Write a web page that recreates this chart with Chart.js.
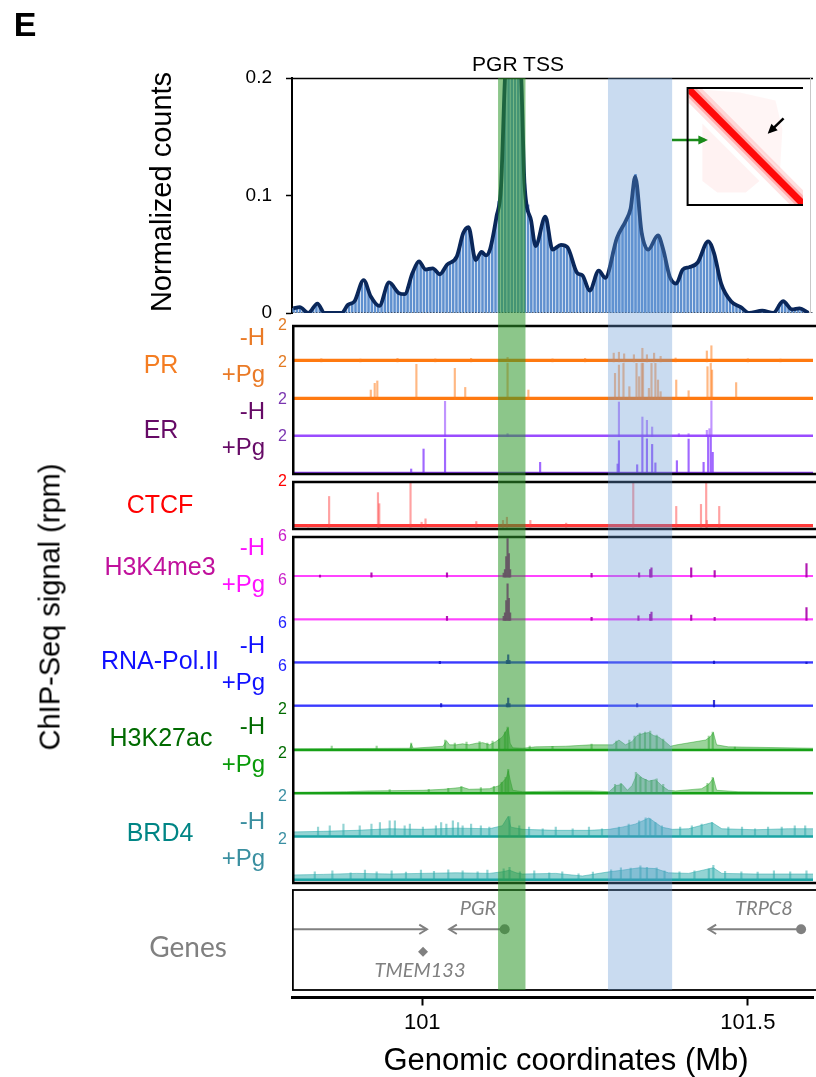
<!DOCTYPE html>
<html>
<head>
<meta charset="utf-8">
<title>PGR locus: virtual 4C and ChIP-Seq tracks</title>
<script src="https://cdn.jsdelivr.net/npm/chart.js@4.4.1/dist/chart.umd.min.js"></script>
<style>
  html, body { margin: 0; padding: 0; background: #fff; }
  #page { position: relative; width: 816px; height: 1077px; overflow: hidden;
          font-family: "Liberation Sans", Arial, Helvetica, sans-serif; }
  #main { position: absolute; left: 0; top: 0; }
  #inset { position: absolute; left: 660px; top: 84px; }
  .lbl { position: absolute; white-space: nowrap; line-height: 1; transform: translate(-50%, -50%); }
  .rt { position: absolute; white-space: nowrap; line-height: 1; transform: translate(-100%, -50%); }
  .vert { position: absolute; white-space: nowrap; line-height: 1; transform: translate(-50%, -50%) rotate(-90deg); }
  .cond { font-size: 24px; }
  .mark { font-size: 25px; }
  .gene { font-family: Lato, "Open Sans", sans-serif; font-style: italic; font-size: 20px; color: #808080; }
</style>
</head>
<body>
<div id="page">
  <canvas id="main" width="818" height="1077"></canvas>
  <canvas id="inset" width="143" height="125"></canvas>

  <div class="lbl" style="left:25px;top:24px;font-size:34px;font-weight:bold;">E</div>
  <div class="lbl" style="left:518px;top:63px;font-size:21px;">PGR TSS</div>
  <div class="vert" style="left:161px;top:192px;font-size:29px;">Normalized counts</div>
  <div class="vert" style="left:50px;top:607px;font-size:29px;">ChIP-Seq signal (rpm)</div>

  <div class="lbl mark" style="left:161px;top:364px;color:#f47d22;">PR</div>
  <div class="rt cond" style="left:265px;top:337px;color:#ea7a26;">-H</div>
  <div class="rt cond" style="left:265px;top:374px;color:#ea7a26;">+Pg</div>

  <div class="lbl mark" style="left:161px;top:429px;color:#660a66;">ER</div>
  <div class="rt cond" style="left:265px;top:411px;color:#660a66;">-H</div>
  <div class="rt cond" style="left:265px;top:447px;color:#660a66;">+Pg</div>

  <div class="lbl mark" style="left:160px;top:504px;color:#ff0000;">CTCF</div>

  <div class="lbl mark" style="left:160px;top:566px;color:#c0109c;">H3K4me3</div>
  <div class="rt cond" style="left:265px;top:547px;color:#ff10ff;">-H</div>
  <div class="rt cond" style="left:265px;top:584px;color:#ff10ff;">+Pg</div>

  <div class="lbl mark" style="left:160px;top:660px;color:#1010ff;">RNA-Pol.II</div>
  <div class="rt cond" style="left:265px;top:645px;color:#1010ff;">-H</div>
  <div class="rt cond" style="left:265px;top:682px;color:#1010ff;">+Pg</div>

  <div class="lbl mark" style="left:161px;top:737px;color:#006a00;">H3K27ac</div>
  <div class="rt cond" style="left:265px;top:726px;color:#006a00;">-H</div>
  <div class="rt cond" style="left:265px;top:764px;color:#089a08;">+Pg</div>

  <div class="lbl mark" style="left:160px;top:832px;color:#008585;">BRD4</div>
  <div class="rt cond" style="left:265px;top:821px;color:#3a8fa0;">-H</div>
  <div class="rt cond" style="left:265px;top:858px;color:#3a8fa0;">+Pg</div>

  <div class="lbl" style="left:188px;top:946px;font-family:Lato,'Open Sans',sans-serif;font-size:28px;color:#808080;">Genes</div>
  <div class="lbl gene" style="left:478px;top:907px;">PGR</div>
  <div class="lbl gene" style="left:764px;top:907px;">TRPC8</div>
  <div class="lbl gene" style="left:420px;top:969px;">TMEM133</div>

  <div class="lbl" style="left:566px;top:1059px;font-size:31px;">Genomic coordinates (Mb)</div>
</div>

<script>
// genomic window (Mb) and x ticks
var xMin = 100.8, xMax = 101.6;
var xTicks = [101, 101.5];

// highlighted regions
var pgrTss = [101.1164, 101.1585];
var loopRegion = [101.2852, 101.3837];

// virtual 4C from the PGR TSS: raw bins and smoothed profile
var hicTicks = [0, 0.1, 0.2];
var hicBinStart = 100.8025;
var hicBinWidth = 0.005;
var hicBins = [
  .004,.005,.005,.003,.001,.001,.004,.008,.006,.001,
  0,0,0,0,0,.001,.005,.008,.009,.011,
  .018,.025,.027,.019,.013,.009,.006,.010,.018,.025,
  .024,.020,.017,.016,.016,.022,.030,.037,.043,.042,
  .038,.037,.038,.038,.035,.033,.037,.041,.043,.045,
  .048,.058,.067,.072,.071,.058,.046,.049,.052,.049,
  .053,.064,.078,.095,.125,.21,.26,.30,.28,.23,
  .19,.11,.092,.078,.062,.062,.072,.081,.074,.060,
  .054,.056,.058,.057,.056,.050,.042,.035,.033,.031,
  .025,.020,.026,.033,.035,.032,.031,.040,.052,.062,
  .068,.074,.079,.086,.100,.118,.095,.068,.058,.054,
  .056,.063,.066,.058,.046,.034,.029,.026,.027,.034,
  .037,.039,.040,.041,.043,.047,.054,.061,.058,.051,
  .040,.028,.021,.015,.011,.008,.007,.005,.003,.001,
  0,.001,.002,.002,.002,.001,0,0,.002,.007,
  .010,.008,.004,.003,.004,.004,.003,.001,0,0
];
var hicSmoothMb = [100.802,100.812,100.825,100.839,100.850,100.876,100.886,100.896,100.910,100.921,
  100.934,100.949,100.964,100.973,100.985,100.995,101.005,101.016,101.027,101.038,
  101.053,101.063,101.071,101.082,101.091,101.098,101.104,101.114,101.121,101.127,
  101.139,101.152,101.157,101.167,101.174,101.189,101.200,101.213,101.223,101.238,
  101.246,101.257,101.271,101.281,101.299,101.313,101.320,101.327,101.337,101.347,
  101.362,101.370,101.380,101.390,101.400,101.410,101.423,101.439,101.448,101.459,
  101.474,101.489,101.502,101.522,101.539,101.554,101.568,101.579,101.593];
var hicSmooth = [.004,.005,0,.008,0,0,.007,.010,.028,.014,
  .006,.026,.017,.016,.034,.044,.037,.038,.033,.041,
  .048,.068,.073,.045,.052,.049,.054,.082,.108,.20,
  .31,.20,.11,.079,.057,.082,.054,.058,.056,.034,
  .032,.019,.036,.030,.064,.079,.089,.116,.068,.054,
  .066,.054,.031,.025,.037,.039,.043,.061,.051,.025,
  .010,.005,0,.002,0,.010,.003,.004,0];

// ChIP-Seq peaks, [Mb, rpm]
var prMinusH = [[100.845,0.18],[100.905,0.16],[100.962,0.2],[101.02,0.17],[101.075,0.2],[101.131,0.25],
  [101.2,0.17],[101.25,0.2],[101.294,0.49],[101.302,0.54],[101.310,0.45],[101.325,0.40],[101.338,0.76],
  [101.345,0.40],[101.356,0.49],[101.366,0.31],[101.389,0.22],[101.437,0.61],[101.444,0.90],[101.5,0.18],[101.55,0.16]];
var prPlusPg = [[100.921,0.54],[100.927,0.90],[100.931,1.03],[100.991,1.93],[101.050,1.71],[101.066,0.68],
  [101.131,1.98],[101.163,0.54],[101.296,1.44],[101.302,1.89],[101.309,1.98],[101.318,0.72],[101.329,1.98],
  [101.333,1.26],[101.337,1.98],[101.339,2.0],[101.348,0.63],[101.352,1.98],[101.358,1.98],[101.362,1.08],
  [101.366,0.45],[101.390,1.08],[101.409,0.50],[101.438,1.80],[101.443,1.98],[101.445,1.62],[101.482,0.94]];
var erMinusH = [[101.035,1.93],[101.131,0.18],[101.302,1.89],[101.338,1.08],[101.345,0.90],[101.353,0.54],
  [101.394,0.18],[101.409,0.18],[101.437,0.36],[101.441,0.45],[101.444,1.95]];
var erPlusPg = [[100.983,0.27],[101.002,1.35],[101.035,1.9],[101.181,0.63],[101.300,0.54],[101.302,1.80],
  [101.330,0.5],[101.338,2.0],[101.345,1.9],[101.353,1.6],[101.358,0.6],[101.391,0.72],[101.409,1.89],
  [101.432,0.63],[101.439,2.0],[101.443,2.0],[101.446,1.17]];
var ctcf = [[100.825,0.1],[100.857,1.36],[100.932,1.53],[100.934,1.04],[100.982,1.97],[100.999,0.22],
  [101.005,0.37],[101.083,0.25],[101.124,0.30],[101.130,0.44],[101.166,0.30],[101.221,0.18],[101.324,1.97],
  [101.390,0.92],[101.428,1.01],[101.436,1.97],[101.437,0.3],[101.456,0.92]];
var k4MinusH = [[100.843,0.3],[100.922,0.63],[101.038,0.63],[101.125,0.6],[101.127,1.1],[101.129,3.07],
  [101.131,5.76],[101.133,3.5],[101.135,1.1],[101.260,0.54],[101.333,0.63],[101.350,1.1],[101.352,1.37],
  [101.413,1.37],[101.449,0.98],[101.590,2.0]];
var k4PlusPg = [[101.038,0.59],[101.125,0.6],[101.127,1.1],[101.129,2.95],[101.131,5.45],[101.133,3.3],
  [101.135,1.1],[101.260,0.45],[101.332,0.68],[101.350,0.9],[101.352,1.23],[101.413,0.77],[101.449,0.45],[101.590,1.91]];
var polMinusH = [[101.027,0.33],[101.130,0.47],[101.132,1.30],[101.134,0.5],[101.448,0.37],[101.590,0.23]];
var polPlusPg = [[101.029,0.5],[101.130,0.5],[101.132,1.30],[101.134,0.5],[101.330,0.5],[101.448,0.98]];
var k27MinusHPeaks = [[100.861,0.2],[100.93,0.2],[100.983,0.35],[101.035,0.5],[101.05,0.35],[101.068,0.4],
  [101.088,0.42],[101.1,0.35],[101.108,0.45],[101.118,0.55],[101.127,0.9],[101.131,1.15],[101.165,0.2],
  [101.2,0.18],[101.26,0.3],[101.298,0.45],[101.318,0.5],[101.326,0.7],[101.334,0.85],[101.342,0.9],
  [101.35,0.95],[101.36,0.75],[101.37,0.55],[101.44,0.7],[101.446,0.9],[101.48,0.15]];
var k27PlusPgPeaks = [[100.95,0.18],[101.01,0.2],[101.04,0.25],[101.06,0.35],[101.09,0.28],[101.11,0.35],
  [101.122,0.55],[101.128,0.8],[101.132,1.2],[101.296,0.45],[101.305,0.5],[101.328,1.05],[101.335,0.8],
  [101.343,0.7],[101.352,0.65],[101.36,0.72],[101.37,0.45],[101.438,0.5],[101.446,0.8]];
var brd4MinusHPeaks = [[100.840,0.47],[100.858,0.54],[100.879,0.62],[100.904,0.54],[100.922,0.62],[100.935,0.70],
  [100.950,0.78],[100.958,0.78],[100.973,0.54],[100.981,0.62],[101.001,0.47],[101.021,0.54],[101.029,0.70],
  [101.037,0.62],[101.047,0.78],[101.055,0.70],[101.062,0.54],[101.075,0.62],[101.090,0.54],[101.103,0.47],
  [101.134,1.0],[101.149,0.54],[101.164,0.47],[101.185,0.39],[101.205,0.47],[101.231,0.39],[101.256,0.47],
  [101.276,0.39],[101.302,0.47],[101.317,0.62],[101.333,0.78],[101.343,0.93],[101.350,0.88],[101.358,0.70],
  [101.368,0.54],[101.396,0.47],[101.414,0.54],[101.429,0.62],[101.445,0.70],[101.470,0.47],[101.491,0.47],
  [101.511,0.39],[101.531,0.47],[101.552,0.47],[101.572,0.54],[101.588,0.54]];
var brd4PlusPgPeaks = [[100.835,0.40],[100.862,0.45],[100.890,0.35],[100.912,0.48],[100.930,0.40],[100.953,0.45],
  [100.975,0.38],[100.998,0.48],[101.018,0.42],[101.040,0.50],[101.062,0.45],[101.085,0.40],[101.100,0.48],
  [101.125,0.55],[101.134,0.62],[101.150,0.40],[101.172,0.45],[101.195,0.35],[101.215,0.40],[101.240,0.30],
  [101.262,0.38],[101.290,0.50],[101.305,0.60],[101.320,0.58],[101.335,0.70],[101.345,0.62],[101.360,0.60],
  [101.372,0.45],[101.395,0.40],[101.418,0.45],[101.440,0.55],[101.447,0.72],[101.465,0.42],[101.490,0.40],
  [101.515,0.38],[101.540,0.45],[101.565,0.40],[101.590,0.45]];

// broad signals, [Mb, rpm]
var k27MinusH = [[100.8,0.06],[100.981,0.09],[100.983,0.31],[100.986,0.09],[101.032,0.19],[101.037,0.47],
  [101.042,0.26],[101.052,0.26],[101.062,0.31],[101.072,0.26],[101.083,0.34],[101.093,0.37],[101.103,0.26],
  [101.113,0.42],[101.123,0.65],[101.129,0.96],[101.132,1.12],[101.135,0.34],[101.139,0.11],[101.154,0.09],
  [101.174,0.16],[101.220,0.19],[101.259,0.26],[101.292,0.26],[101.302,0.50],[101.312,0.26],[101.322,0.42],
  [101.330,0.73],[101.338,0.81],[101.348,0.88],[101.355,0.73],[101.363,0.65],[101.373,0.42],[101.381,0.19],
  [101.391,0.26],[101.435,0.50],[101.442,0.65],[101.447,0.88],[101.452,0.26],[101.470,0.16],[101.6,0.09]];
var k27PlusPg = [[100.8,0.05],[100.884,0.08],[100.919,0.12],[101.001,0.15],[101.032,0.20],[101.062,0.30],
  [101.072,0.20],[101.103,0.23],[101.118,0.38],[101.129,0.76],[101.132,1.14],[101.135,0.68],[101.139,0.15],
  [101.154,0.08],[101.220,0.12],[101.259,0.12],[101.287,0.08],[101.297,0.38],[101.307,0.45],[101.315,0.15],
  [101.322,0.38],[101.330,0.98],[101.338,0.76],[101.348,0.61],[101.358,0.68],[101.368,0.38],[101.378,0.15],
  [101.389,0.12],[101.429,0.23],[101.440,0.45],[101.447,0.76],[101.452,0.15],[101.485,0.08],[101.6,0.05]];
var brd4MinusH = [[100.8,0.23],[100.848,0.26],[100.899,0.31],[100.950,0.39],[101.001,0.36],[101.052,0.42],
  [101.103,0.39],[101.123,0.54],[101.132,1.01],[101.136,0.47],[101.154,0.36],[101.205,0.31],[101.256,0.31],
  [101.287,0.36],[101.307,0.47],[101.327,0.62],[101.338,0.78],[101.348,0.93],[101.358,0.70],[101.368,0.47],
  [101.384,0.36],[101.409,0.39],[101.445,0.70],[101.460,0.39],[101.511,0.34],[101.562,0.39],[101.6,0.39]];
var brd4PlusPg = [[100.8,0.24],[100.848,0.27],[100.899,0.32],[100.950,0.29],[101.001,0.32],[101.052,0.35],
  [101.103,0.32],[101.123,0.40],[101.134,0.48],[101.144,0.35],[101.154,0.29],[101.205,0.32],[101.246,0.19],
  [101.287,0.40],[101.307,0.48],[101.333,0.60],[101.358,0.56],[101.378,0.35],[101.409,0.32],[101.447,0.60],
  [101.460,0.32],[101.511,0.29],[101.6,0.29]];

// per-track scale tops (rpm) and background level
var trackMax   = [2, 2, 2, 2, 2, 6, 6, 6, 6, 2, 2, 2, 2];
var trackFloor = [0.12, 0.12, 0.08, 0.07, 0.1, 0.15, 0.15, 0.2, 0.2, 0, 0, 0, 0];

// genes: [start Mb, end Mb] with the arrow at the end
var tmem133Arrow = [100.8, 101.0072];
var tmem133Mark = 101.0012;
var pgrArrow = [101.1266, 101.0413];
var trpc8Arrow = [101.5817, 101.4395];

// inset contact map pieces, [x, y] in map units
var insetHalo = [[0,0],[0.12,0],[1,0.88],[1,1],[0.88,1],[0,0.12]];
var insetUpper = [[0.06,0.0],[0.45,0.03],[0.76,0.1],[0.82,0.35],[0.8,0.7]];
var insetLower = [[0.12,0.3],[0.62,0.8],[0.5,0.9],[0.25,0.9],[0.12,0.8]];
var insetDiag = [[0,0],[1,1]];
var insetLoopArrow = [[0.83,0.255],[0.71,0.37]];
var insetTssArrow = [[-0.145,0.443],[0.143,0.443]];

Chart.defaults.font.family = "'Liberation Sans', Arial, Helvetica, sans-serif";
Chart.defaults.color = '#000';

function pts(a) {
  return a.map(function(p){ return {x: p[0], y: p[1]}; });
}

// vertical layout of the stacked left axes, in px
var stackPlan = [['hic',235],['gapA',13],['t0',37],['t1',37],['t2',37],['t3',37],['gapB',8],['t4',47],['gapC',8],
  ['t5',43.25],['t6',43.25],['t7',43.25],['t8',43.25],['t9',43.25],['t10',43.25],['t11',43.25],['t12',43.25],
  ['gapD',7],['genes',100],['gapE',7.5]];
var trackPad = [0.03, 0, 0, 0, 0.04, 0.08, 0.08, 0.08, 0.08, 0.08, 0.08, 0.08, 0.08];
var trackTick = ['#e27a22','#e27a22','#7a35b0','#7a35b0','#ff0000','#c81ec8','#c81ec8','#2222ff','#2222ff',
  '#006b00','#006b00','#3a8fa3','#3a8fa3'];
var trackLine = ['#ff7a10','#ff7a10','#9a4cff','#8a3cf0','#ff3a3a','#ff44ff','#ff44ff','#3a3aff','#3a3aff',
  '#17a017','#17a017','#1ba5a5','#1ba5a5'];
var trackSpike = ['rgba(255,125,30,0.55)','rgba(255,125,30,0.55)','rgba(140,60,255,0.55)','rgba(120,40,255,0.7)',
  'rgba(255,70,70,0.5)','rgba(170,0,170,0.9)','rgba(170,0,170,0.9)','rgba(20,20,200,0.85)','rgba(20,20,200,0.85)',
  'rgba(30,160,30,0.45)','rgba(30,160,30,0.45)','rgba(40,170,170,0.5)','rgba(40,170,170,0.5)'];
var trackData = [prMinusH, prPlusPg, erMinusH, erPlusPg, ctcf, k4MinusH, k4PlusPg, polMinusH, polPlusPg,
  k27MinusH, k27PlusPg, brd4MinusH, brd4PlusPg];
var trackPeaks = [null, null, null, null, null, null, null, null, null,
  k27MinusHPeaks, k27PlusPgPeaks, brd4MinusHPeaks, brd4PlusPgPeaks];

var scales = {
  x: {
    type: 'linear', position: 'bottom', min: xMin, max: xMax, offset: false,
    afterBuildTicks: function(s){ s.ticks = xTicks.map(function(v){ return {value: v}; }); },
    afterFit: function(s){ s.height = 79.5; },
    ticks: { autoSkip: false, maxRotation: 0, padding: 4, color: '#000', font: {size: 22},
             callback: function(v){ return String(v); } },
    grid: { offset: false, drawOnChartArea: false, drawTicks: true, tickLength: 8, tickWidth: 2, tickColor: '#000' },
    border: { display: true, color: '#000', width: 3 }
  }
};
stackPlan.forEach(function(p, i){
  scales[p[0]] = { type: 'linear', position: 'left', stack: 'main', stackWeight: p[1], weight: 100 - i,
                   display: false, stacked: false, min: 0, max: 1 };
});

Object.assign(scales.hic, {
  display: true, min: 0, max: 0.2,
  afterBuildTicks: function(s){ s.ticks = hicTicks.map(function(v){ return {value: v}; }); },
  afterFit: function(s){ s.width = 292; },
  ticks: { padding: 14, color: '#000', font: {size: 19},
           callback: function(v){ return v === 0 ? '0' : v.toFixed(1); } },
  grid: { drawOnChartArea: false, drawTicks: true, tickLength: 6, tickWidth: 1.5, tickColor: '#000' },
  border: { display: true, color: '#000', width: 2 }
});

trackMax.forEach(function(m, i){
  Object.assign(scales['t' + i], {
    display: true, min: -m * trackPad[i], max: m,
    afterBuildTicks: function(s){ s.ticks = [{value: m}]; },
    afterFit: function(s){ s.width = 292; },
    ticks: { padding: 5, color: trackTick[i], font: {size: 16}, callback: function(v){ return String(v); } },
    grid: { display: false, drawTicks: false },
    border: { display: false }
  });
});

var datasets = [];

// virtual 4C
datasets.push({ type: 'line', yAxisID: 'hic', data: pts(hicSmoothMb.map(function(m, i){ return [m, hicSmooth[i]]; })),
  borderColor: '#0a275a', borderWidth: 3.8, pointRadius: 0, cubicInterpolationMode: 'monotone', order: 0 });
datasets.push({ type: 'line', yAxisID: 'hic', data: pts([[xMin, 0], [xMax, 0]]),
  borderColor: '#000', borderWidth: 1, borderDash: [1.5, 1.5], pointRadius: 0, order: 1 });
datasets.push({ type: 'bar', yAxisID: 'hic', stack: 'one', barThickness: 1.9, order: 2,
  data: hicBins.map(function(v, i){ return {x: hicBinStart + i * hicBinWidth, y: v}; }),
  backgroundColor: '#5f90cf' });

// ChIP-Seq tracks
trackData.forEach(function(arr, i){
  var sid = 't' + i;
  if (i < 9) {
    datasets.push({ type: 'bar', yAxisID: sid, stack: 'one', barThickness: 1.5, order: 3,
      data: pts(arr), backgroundColor: trackSpike[i] });
    datasets.push({ type: 'line', yAxisID: sid, data: pts([[xMin, trackFloor[i]], [xMax, trackFloor[i]]]),
      borderColor: trackLine[i], borderWidth: 2, pointRadius: 0, fill: 'origin',
      backgroundColor: trackLine[i], order: 4 });
  } else {
    datasets.push({ type: 'line', yAxisID: sid, data: pts(arr), borderColor: trackSpike[i], borderWidth: 1,
      pointRadius: 0, fill: 'origin', backgroundColor: trackSpike[i], order: 5 });
    datasets.push({ type: 'bar', yAxisID: sid, stack: 'one', barThickness: 1.5, order: 3,
      data: pts(trackPeaks[i]), backgroundColor: trackSpike[i] });
    datasets.push({ type: 'line', yAxisID: sid, data: pts([[xMin, 0], [xMax, 0]]),
      borderColor: trackLine[i], borderWidth: 2.5, pointRadius: 0, order: 4 });
  }
});

// genes
datasets.push({ type: 'line', yAxisID: 'genes', arrowHead: true, order: 0,
  data: pts([[tmem133Arrow[0], 0.607], [tmem133Arrow[1], 0.607]]),
  borderColor: '#808080', borderWidth: 2, pointRadius: 0 });
datasets.push({ type: 'line', yAxisID: 'genes', arrowHead: true, order: 0,
  data: pts([[pgrArrow[0], 0.607], [pgrArrow[1], 0.607]]),
  borderColor: '#808080', borderWidth: 2, pointRadius: [5, 0], pointBackgroundColor: '#808080', pointBorderWidth: 0 });
datasets.push({ type: 'line', yAxisID: 'genes', arrowHead: true, order: 0,
  data: pts([[trpc8Arrow[0], 0.607], [trpc8Arrow[1], 0.607]]),
  borderColor: '#808080', borderWidth: 2, pointRadius: [5, 0], pointBackgroundColor: '#808080', pointBorderWidth: 0 });
datasets.push({ type: 'line', yAxisID: 'genes', order: 0, showLine: false,
  data: pts([[tmem133Mark, 0.383]]),
  pointStyle: 'rectRot', pointRadius: 5, pointBackgroundColor: '#808080', pointBorderWidth: 0 });

var framesAndBands = {
  id: 'framesAndBands',
  afterDatasetsDraw: function(chart){
    var ctx = chart.ctx, sc = chart.scales, x = sc.x;
    var L = chart.chartArea.left, R = chart.chartArea.right;
    ctx.save();
    // top and right edges of the 4C panel
    ctx.strokeStyle = '#000';
    ctx.lineWidth = 1.5;
    ctx.beginPath(); ctx.moveTo(L, sc.hic.top + 0.5); ctx.lineTo(R, sc.hic.top + 0.5); ctx.stroke();
    ctx.strokeStyle = '#c8c8c8';
    ctx.lineWidth = 1;
    ctx.beginPath(); ctx.moveTo(R - 2.5, sc.hic.top); ctx.lineTo(R - 2.5, sc.hic.bottom); ctx.stroke();
    // track boxes
    ctx.strokeStyle = '#000';
    function box(top, bottom, w){
      ctx.lineWidth = w;
      ctx.strokeRect(L + w / 2, top, R - L + 10, bottom - top);
    }
    box(sc.t0.top, sc.t3.bottom, 2.5);
    box(sc.t4.top, sc.t4.bottom, 2.5);
    box(sc.t5.top, sc.t12.bottom, 2.5);
    box(sc.genes.top, sc.genes.bottom, 1.8);
    // gene arrow heads
    ctx.strokeStyle = '#808080';
    ctx.lineWidth = 2;
    chart.data.datasets.forEach(function(ds, i){
      if (!ds.arrowHead) return;
      var el = chart.getDatasetMeta(i).data;
      var a = el[el.length - 2], b = el[el.length - 1];
      var ang = Math.atan2(b.y - a.y, b.x - a.x);
      ctx.beginPath();
      ctx.moveTo(b.x - 9 * Math.cos(ang - 0.55), b.y - 9 * Math.sin(ang - 0.55));
      ctx.lineTo(b.x, b.y);
      ctx.lineTo(b.x - 9 * Math.cos(ang + 0.55), b.y - 9 * Math.sin(ang + 0.55));
      ctx.stroke();
    });
    // highlighted regions across all panels
    var top = sc.hic.top, bottom = sc.genes.bottom;
    function band(r, col){
      var x0 = x.getPixelForValue(r[0]), x1 = x.getPixelForValue(r[1]);
      ctx.fillStyle = col;
      ctx.fillRect(x0, top, x1 - x0, bottom - top);
    }
    band(pgrTss, 'rgba(46,151,42,0.55)');
    band(loopRegion, 'rgba(100,152,212,0.35)');
    ctx.restore();
  }
};

new Chart(document.getElementById('main'), {
  type: 'line',
  data: { datasets: datasets },
  options: {
    responsive: false, animation: false, events: [],
    layout: { padding: { top: 78, left: 0, right: 0, bottom: 0 } },
    plugins: { legend: { display: false }, tooltip: { enabled: false } },
    scales: scales
  },
  plugins: [framesAndBands]
});

// inset: contact map with loop and TSS arrows
var insetFrame = {
  id: 'insetFrame',
  beforeDatasetsDraw: function(chart){
    var ctx = chart.ctx, x = chart.scales.x, y = chart.scales.y;
    ctx.save();
    ctx.fillStyle = '#fff';
    ctx.fillRect(x.getPixelForValue(0), y.getPixelForValue(0),
                 x.getPixelForValue(1) - x.getPixelForValue(0), y.getPixelForValue(1) - y.getPixelForValue(0));
    ctx.restore();
  },
  beforeDatasetDraw: function(chart, args){
    if (!chart.data.datasets[args.index].inMap) return;
    var ctx = chart.ctx, x = chart.scales.x, y = chart.scales.y;
    ctx.save();
    ctx.beginPath();
    ctx.rect(x.getPixelForValue(0), y.getPixelForValue(0),
             x.getPixelForValue(1) - x.getPixelForValue(0), y.getPixelForValue(1) - y.getPixelForValue(0));
    ctx.clip();
  },
  afterDatasetDraw: function(chart, args){
    if (!chart.data.datasets[args.index].inMap) return;
    chart.ctx.restore();
  },
  afterDatasetsDraw: function(chart){
    var ctx = chart.ctx, x = chart.scales.x, y = chart.scales.y;
    ctx.save();
    ctx.strokeStyle = '#000';
    ctx.lineWidth = 2;
    ctx.strokeRect(x.getPixelForValue(0) - 1, y.getPixelForValue(0) - 1,
                   x.getPixelForValue(1) - x.getPixelForValue(0) + 2, y.getPixelForValue(1) - y.getPixelForValue(0) + 2);
    chart.data.datasets.forEach(function(ds, i){
      if (!ds.arrowHead) return;
      var el = chart.getDatasetMeta(i).data;
      var a = el[0], b = el[1];
      var ang = Math.atan2(b.y - a.y, b.x - a.x);
      ctx.fillStyle = ds.borderColor;
      ctx.beginPath();
      ctx.moveTo(b.x + 3 * Math.cos(ang), b.y + 3 * Math.sin(ang));
      ctx.lineTo(b.x - 8 * Math.cos(ang - 0.6), b.y - 8 * Math.sin(ang - 0.6));
      ctx.lineTo(b.x - 8 * Math.cos(ang + 0.6), b.y - 8 * Math.sin(ang + 0.6));
      ctx.closePath();
      ctx.fill();
    });
    ctx.restore();
  }
};

new Chart(document.getElementById('inset'), {
  type: 'line',
  data: { datasets: [
    { data: pts(insetHalo), inMap: true, fill: 'shape', backgroundColor: 'rgba(255,0,0,0.12)', borderWidth: 0, pointRadius: 0, order: 5 },
    { data: pts(insetUpper), inMap: true, fill: 'shape', backgroundColor: 'rgba(255,0,0,0.04)', borderWidth: 0, pointRadius: 0, order: 5 },
    { data: pts(insetLower), inMap: true, fill: 'shape', backgroundColor: 'rgba(255,0,0,0.05)', borderWidth: 0, pointRadius: 0, order: 5 },
    { data: pts(insetDiag), inMap: true, borderColor: 'rgba(255,0,0,0.22)', borderWidth: 12, pointRadius: 0, order: 4 },
    { data: pts(insetDiag), inMap: true, borderColor: 'rgba(255,0,0,0.95)', borderWidth: 7, pointRadius: 0, order: 3 },
    { data: pts(insetLoopArrow), arrowHead: true, borderColor: '#000', borderWidth: 2.5, pointRadius: 0, order: 0 },
    { data: pts(insetTssArrow), arrowHead: true, borderColor: '#1a8a1a', borderWidth: 2.5, pointRadius: 0, order: 0, clip: false }
  ] },
  options: {
    responsive: false, animation: false, events: [],
    layout: { padding: { top: 5, bottom: 5, left: 0, right: 0 } },
    plugins: { legend: { display: false }, tooltip: { enabled: false } },
    scales: {
      x: { type: 'linear', min: -0.25, max: 1, display: false },
      y: { type: 'linear', min: 0, max: 1, reverse: true, display: false }
    }
  },
  plugins: [insetFrame]
});
</script>
</body>
</html>
